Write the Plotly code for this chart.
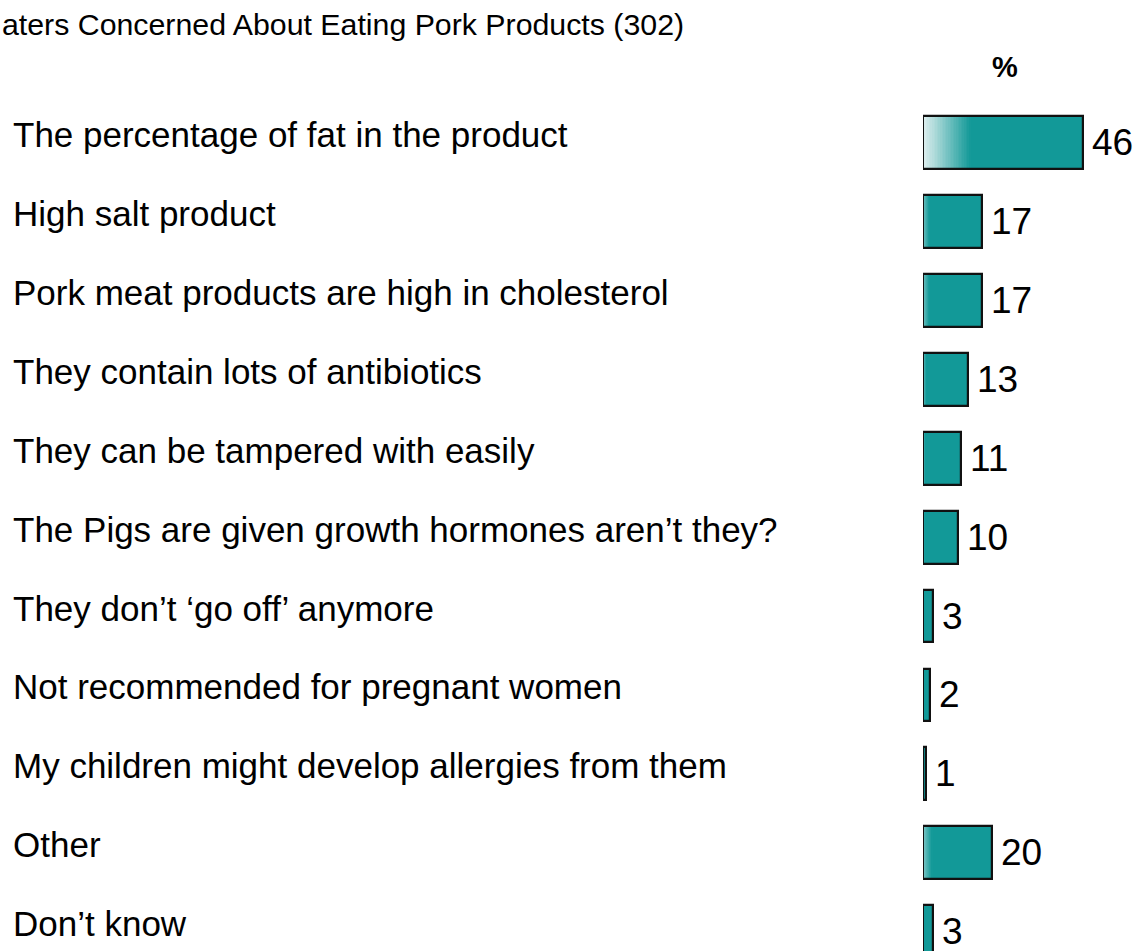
import plotly.graph_objects as go

# ---- data -------------------------------------------------------------
categories = [
    "The percentage of fat in the product",
    "High salt product",
    "Pork meat products are high in cholesterol",
    "They contain lots of antibiotics",
    "They can be tampered with easily",
    "The Pigs are given growth hormones aren\u2019t they?",
    "They don\u2019t \u2018go off\u2019 anymore",
    "Not recommended for pregnant women",
    "My children might develop allergies from them",
    "Other",
    "Don\u2019t know",
]
values = [46, 17, 17, 13, 11, 10, 3, 2, 1, 20, 3]
title_text = "aters Concerned About Eating Pork Products (302)"
unit_label = "%"

# ---- geometry / style ---------------------------------------------------
W, H = 1139, 951
ML, MT = 923, 103          # plot area starts where the bars start
PX_PER_UNIT = 3.47
ROW_PX = 78.93
plot_w = W - ML
plot_h = H - MT
x_max = plot_w / PX_PER_UNIT
rows_visible = plot_h / ROW_PX

TEAL = (18, 153, 152)
WHITE = (240, 246, 246)
FONT = "Liberation Sans, Arial, sans-serif"


def blend(t):
    r, g, b = (round(WHITE[i] + (TEAL[i] - WHITE[i]) * t) for i in range(3))
    return f"rgb({r},{g},{b})"


fig = go.Figure()

# solid fill of every bar
fig.add_trace(go.Bar(
    y=categories, x=values, orientation="h", width=0.67,
    marker=dict(color=blend(1.0), line=dict(width=0)),
    hoverinfo="skip",
))

# light-to-teal shading at the left end of each bar
N_SEG = 30
vmax = max(values)
for k in range(N_SEG):
    seg_w, seg_base, seg_col = [], [], []
    for v in values:
        frac = v / vmax
        length = 0.3 * v * frac
        start_t = 0.06 + 0.94 * (1 - frac ** 0.7)
        t = start_t + (1 - start_t) * ((k + 0.5) / N_SEG)
        seg_w.append(length / N_SEG)
        seg_base.append(k * length / N_SEG)
        seg_col.append(blend(t))
    fig.add_trace(go.Bar(
        y=categories, x=seg_w, base=seg_base, orientation="h", width=0.67,
        marker=dict(color=seg_col, line=dict(width=0)),
        hoverinfo="skip",
    ))

# black outline of every bar
fig.add_trace(go.Bar(
    y=categories, x=values, orientation="h", width=0.67,
    marker=dict(color="rgba(0,0,0,0)", line=dict(color="#111111", width=2.2)),
    hoverinfo="skip",
))

annotations = []
# value labels just past the bar ends
for cat, v in zip(categories, values):
    annotations.append(dict(
        xref="x", x=v, xshift=7, xanchor="left",
        yref="y", y=cat, yanchor="middle",
        text=str(v), showarrow=False,
        font=dict(family=FONT, size=37, color="#000000"),
    ))

# category names at the far left
for cat in categories:
    annotations.append(dict(
        xref="paper", x=0, xshift=-(ML - 11), xanchor="left",
        yref="y", y=cat, yshift=8, yanchor="middle",
        text=cat, showarrow=False,
        font=dict(family=FONT, size=35, color="#000000"),
    ))

annotations.append(dict(
    xref="paper", x=0, xshift=-ML, xanchor="left",
    yref="paper", y=1, yshift=MT - 24, yanchor="middle",
    text=title_text, showarrow=False,
    font=dict(family=FONT, size=30.3, color="#000000"),
))
annotations.append(dict(
    xref="paper", x=(1005 - ML) / plot_w, xanchor="center",
    yref="paper", y=1, yshift=MT - 67, yanchor="middle",
    text=f"<b>{unit_label}</b>", showarrow=False,
    font=dict(family=FONT, size=29, color="#000000"),
))

fig.update_layout(
    width=W, height=H,
    margin=dict(l=ML, r=0, t=MT, b=0, pad=0),
    barmode="overlay", bargap=0,
    showlegend=False,
    paper_bgcolor="white", plot_bgcolor="white",
    xaxis=dict(range=[0, x_max], visible=False, fixedrange=True),
    yaxis=dict(range=[-0.5 + rows_visible, -0.5], visible=False,
               type="category", categoryorder="array",
               categoryarray=categories, fixedrange=True),
    annotations=annotations,
)

fig.write_html("out.html")
